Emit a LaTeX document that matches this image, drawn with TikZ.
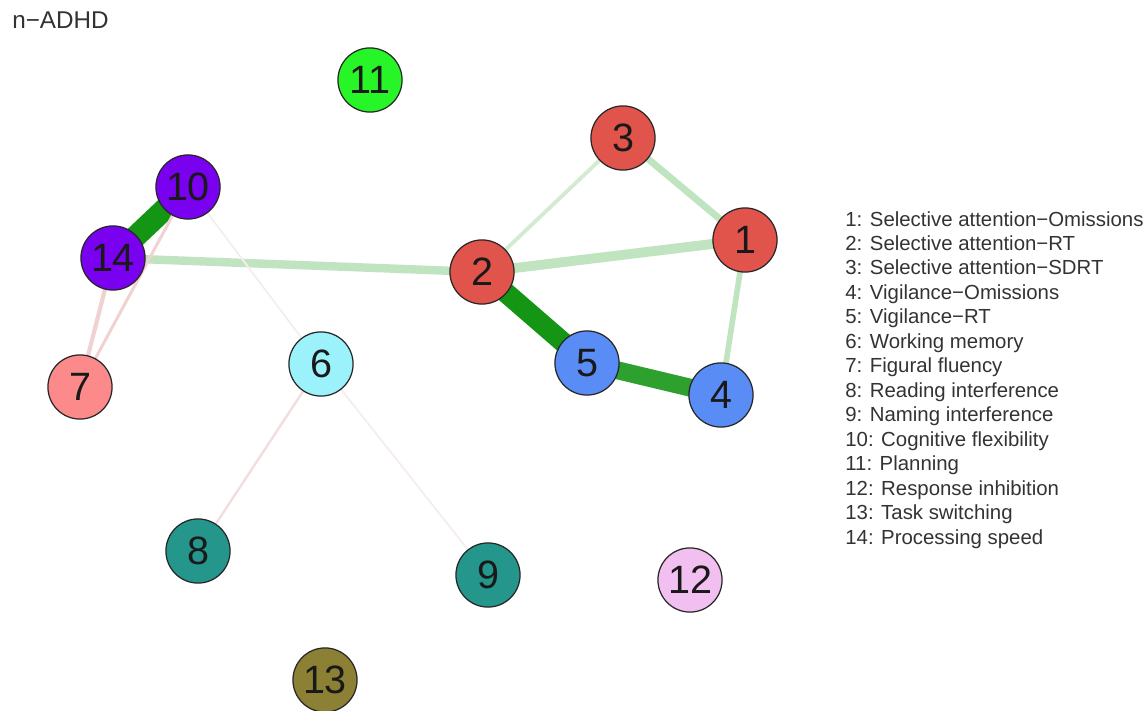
\documentclass[tikz,border=0pt]{standalone}
\usepackage{fontspec}
\setmainfont{Liberation Sans}
\usetikzlibrary{backgrounds}

% node fills
\definecolor{cred}{RGB}{224,84,76}
\definecolor{cblue}{RGB}{90,140,245}
\definecolor{ccyan}{RGB}{155,242,250}
\definecolor{cpink}{RGB}{252,138,138}
\definecolor{cteal}{RGB}{36,150,140}
\definecolor{cpurple}{RGB}{122,0,240}
\definecolor{cgreen}{RGB}{40,245,40}
\definecolor{clilac}{RGB}{242,192,240}
\definecolor{colive}{RGB}{140,128,52}
% edge colours
\definecolor{estrong}{RGB}{20,150,20}
\definecolor{emid}{RGB}{45,160,45}
\definecolor{elight}{RGB}{192,227,192}
\definecolor{efaint}{RGB}{210,235,210}
\definecolor{eneg}{RGB}{240,210,210}
\definecolor{enegsoft}{RGB}{243,222,222}
\definecolor{enegfaint}{RGB}{245,238,238}
\definecolor{txt}{RGB}{25,25,25}

\tikzset{
  var/.style={circle, draw=black!85, line width=0.7pt, minimum size=36.5pt,
    inner sep=0pt, font=\fontsize{22.5}{22.5}\selectfont, text=txt},
  legend/.style={anchor=base west, inner sep=0pt,
    font=\fontsize{11.6}{13.8}\selectfont, text=black!80},
  edge/.style={line cap=round},
}

\begin{document}
\begin{tikzpicture}[x=0.02cm, y=-0.02cm]
  \useasboundingbox (0,0) rectangle (1148,710);

  % title
  \node[anchor=base west, inner sep=0pt, font=\fontsize{13.8}{13.8}\selectfont,
        text=black!80] (title) at (12,29) {n−ADHD};

  % variables
  \node[var, fill=cred]    (n1)  at (745,240) {1};
  \node[var, fill=cred]    (n2)  at (482,272) {2};
  \node[var, fill=cred]    (n3)  at (623,138) {3};
  \node[var, fill=cblue]   (n4)  at (721,395) {4};
  \node[var, fill=cblue]   (n5)  at (587,363) {5};
  \node[var, fill=ccyan]   (n6)  at (321,364) {6};
  \node[var, fill=cpink]   (n7)  at (80,387)  {7};
  \node[var, fill=cteal]   (n8)  at (198,551) {8};
  \node[var, fill=cteal]   (n9)  at (488,575) {9};
  \node[var, fill=cpurple] (n10) at (188,187) {10};
  \node[var, fill=cgreen]  (n11) at (370,80)  {11};
  \node[var, fill=clilac]  (n12) at (690,580) {12};
  \node[var, fill=colive]  (n13) at (325,680) {13};
  \node[var, fill=cpurple] (n14) at (113,258) {14};

  % partial correlations, drawn under the nodes
  \begin{pgfonlayer}{background}
    \draw[edge, estrong, line width=12.5pt] (n10.center) -- (n14.center);
    \draw[edge, estrong, line width=11.5pt] (n2.center) -- (n5.center);
    \draw[edge, emid,    line width=10.2pt] (n5.center) -- (n4.center);
    \draw[edge, elight,  line width=5.6pt] (n2.center) -- (n1.center);
    \draw[edge, elight,  line width=4.8pt] (n14.center) -- (n2.center);
    \draw[edge, elight,  line width=3.9pt] (n3.center) -- (n1.center);
    \draw[edge, elight,  line width=3.2pt] (n1.center) -- (n4.center);
    \draw[edge, efaint,  line width=2.2pt] (n3.center) -- (n2.center);
    \draw[edge, eneg,    line width=2.4pt] (n14.center) -- (n7.center);
    \draw[edge, eneg,    line width=1.7pt] (n10.center) -- (n7.center);
    \draw[edge, enegsoft, line width=1.4pt] (n6.center) -- (n8.center);
    \draw[edge, enegfaint, line width=1.1pt] (n10.center) -- (n6.center);
    \draw[edge, enegfaint, line width=1.1pt] (n6.center) -- (n9.center);
  \end{pgfonlayer}

  % legend
  \node[legend] (l1)  at (845,226.0) {1: Selective attention−Omissions};
  \node[legend] (l2)  at (845,250.5) {2: Selective attention−RT};
  \node[legend] (l3)  at (845,274.9) {3: Selective attention−SDRT};
  \node[legend] (l4)  at (845,299.4) {4: Vigilance−Omissions};
  \node[legend] (l5)  at (845,323.8) {5: Vigilance−RT};
  \node[legend] (l6)  at (845,348.3) {6: Working memory};
  \node[legend] (l7)  at (845,372.8) {7: Figural fluency};
  \node[legend] (l8)  at (845,397.2) {8: Reading interference};
  \node[legend] (l9)  at (845,421.7) {9: Naming interference};
  \node[legend] (l10) at (845,446.1) {10: Cognitive flexibility};
  \node[legend] (l11) at (845,470.6) {11: Planning};
  \node[legend] (l12) at (845,495.0) {12: Response inhibition};
  \node[legend] (l13) at (845,519.5) {13: Task switching};
  \node[legend] (l14) at (845,544.0) {14: Processing speed};
\end{tikzpicture}
\end{document}
